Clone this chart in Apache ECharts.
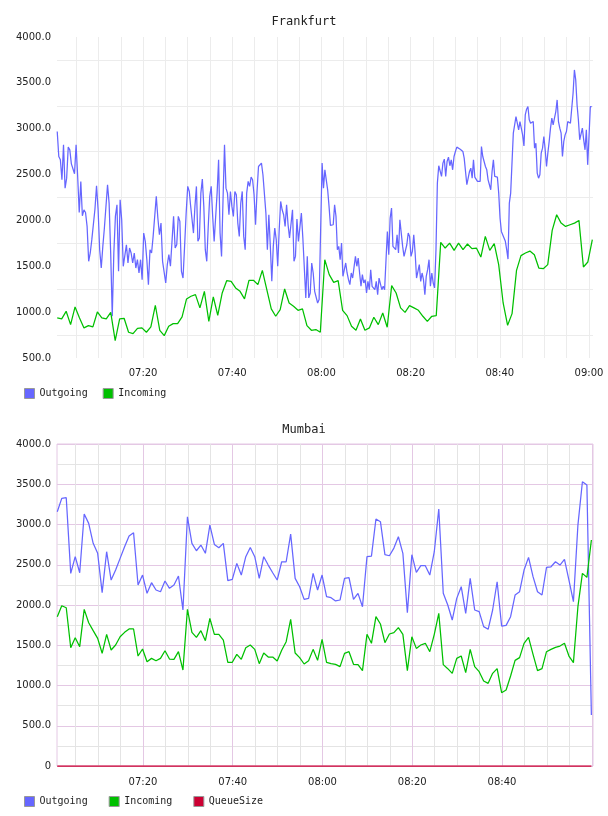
<!DOCTYPE html>
<html>
<head>
<meta charset="utf-8">
<script src="https://cdn.jsdelivr.net/npm/echarts@6/dist/echarts.min.js"></script>
<style>
html,body{margin:0;padding:0;background:#fff;}
#main{width:608px;height:816px;}
</style>
</head>
<body>
<div id="main"></div>
<script>
// ---------- DATA (time in minutes after 07:00) ----------
const chartTitles = ['Frankfurt', 'Mumbai'];
const topTickLabels = ['07:20', '07:40', '08:00', '08:20', '08:40', '09:00'];
const bottomTickLabels = ['07:20', '07:40', '08:00', '08:20', '08:40'];

// Frankfurt Outgoing, sampled ~every 20 s; four stretches with their start/end time
const fraOutStart = [0.75, 30.64, 60.15, 91.12];
const fraOutEnd = [30.37, 59.81, 90.67, 120.6];
const fraOut1 = [2970,2697,2661,2443,2824,2352,2461,2799,2770,2617,2606,2509,2824,2480,2087,2425,2051,2116,2087,1935,
  1554,1645,1790,1772,2124,2378,2116,1681,1481,1717,1917,1917,2389,2189,1645,955,1645,2044,2171,1445,
  2225,2007,1500,1500,1735,1536,1699,1645,1536,1645,1481,1572,1427,1572,1354,1862,1772,1572,1300,1681,
  1645,1826,1844,2262,2026,1844,1971,1554,1572,1318,1518,1627,1500,1772,2044,1699,1735,2044,1989,1445,
  1372,1717,2080,2371,2316];
const fraOut2 = [2171,2189,1862,2153,2371,1772,1808,2298,2450,2153,1681,1554,1935,2262,2371,2044,1772,1790,2298,2661,
  1862,1608,2225,2824,2352,2298,2062,2316,2153,2044,2316,2280,1971,1826,2189,2316,1826,1681,2298,2425,
  2371,2472,2443,2280,1953,2316,2588,2581,2625,2498,2480,2080,1681,2062,1717,1336,1717,1917,1790,1500,
  1899,2207,2116,2062,1935,2171,1953,1808,1790,2116,1554,1608,2015,1772,1772,2080,1808,1808,1155,1608,
  1155,1209,1536,1427,1227,1245,1100,1137,1137];
const fraOut3 = [2625,2352,2552,2570,2334,2153,1946,1935,1953,2171,2044,1681,1717,1572,1753,1391,1398,1536,1427,1354,
  1300,1427,1372,1391,1608,1500,1590,1427,1282,1409,1318,1354,1209,1336,1245,1463,1282,1264,1245,1336,
  1191,1372,1354,1245,1282,1245,1227,1880,1626,2026,2135,1717,1699,1681,1844,1645,2008,1862,1717,1608,
  1590,1735,1862,1826,1608,1663,1844,1645,1372,1354,1518,1336,1427,1354,1191,1391,1463,1572,1282,1427,
  1318,1264,1681,2407,2596,2606,2480,2625,2668,2480,2643,2690,2596,2661,2552,2697,2752,2799,2813];
const fraOut4 = [2777,2777,2752,2679,2668,2389,2461,2534,2570,2461,2661,2472,2480,2425,2407,2425,2806,2697,2679,2588,
  2552,2443,2389,2334,2534,2661,2480,2498,2472,2298,2026,1880,1844,1826,1772,1681,1579,2189,2298,2625,
  2951,3042,3133,3060,2988,3078,3006,2933,2813,3151,3213,3242,3097,3060,3060,3078,2788,2842,2516,2461,
  2498,2734,2788,2915,2770,2588,2734,2861,3006,3115,3042,3115,3187,3314,3078,3006,2951,2697,2861,2933,
  2970,3078,3089,3060,3078,3387,3641,3532,3260,3097,2879,2861,3006,2879,2770,2988,2606,2915,3242,3242];

// Frankfurt Incoming, one sample per minute from 07:00:45
const fraInStart = 0.75;
const fraInStep = 1;
const fraIn = [937,926,1009,864,1057,937,828,853,839,1002,937,926,998,690,926,933,781,766,824,828,
  781,839,1075,802,744,846,875,875,948,1144,1173,
  1191,1046,1227,900,1166,966,1209,1343,1336,1264,1227,1144,1347,1347,1300,1456,1245,1035,955,1028,
  1253,1100,1064,1020,1035,853,802,810,781,
  1572,1409,1325,1343,1020,962,846,802,926,802,828,944,864,991,835,1289,1209,1046,998,1071,
  1046,1020,955,900,955,962,1761,1699,1753,1674,1753,
  1681,1743,1692,1699,1601,1826,1674,1746,1518,1100,857,984,1456,1616,1645,1666,1626,1481,1474,1518,
  1891,2062,1971,1935,1953,1971,2000,1492,1547,1790];

// Mumbai, one sample per minute from 07:00:55
const mumStart = 0.91;
const mumStep = 1;
const mumOut = [3159,3325,3333,2393,2600,2401,3130,3014,2766,2642,2153,2662,2310,2434,2579,2724,2857,2898,2248,2372,
  2145,2277,2186,2165,2298,2207,2248,2360,1938,3096,2766,2674,2745,2642,2993,2753,2711,2766,2302,2318,
  2517,2372,2600,2715,2600,2331,2600,2496,2401,2310,2537,2537,2881,2331,2227,2070,2082,2393,2186,
  2372,2103,2091,2050,2062,2331,2339,2070,2145,1979,2600,2608,3068,3035,2625,2612,2707,2848,2642,1905,
  2625,2406,2488,2488,2372,2662,3192,2145,2000,1813,2082,2227,1896,2331,1938,1917,1731,1698,1938,2289,
  1739,1747,1855,2124,2165,2434,2592,2352,2165,2124,2467,2475,2537,2496,2567,2310,2041,2993,3531,3490,633];
const mumIn = [1855,1991,1966,1469,1594,1482,1946,1780,1681,1586,1400,1636,1441,1503,1606,1660,1702,1702,1366,1453,
  1296,1337,1308,1337,1432,1329,1325,1420,1192,1946,1660,1598,1681,1557,1834,1636,1636,1565,1288,1288,
  1387,1325,1469,1503,1449,1271,1403,1354,1354,1304,1437,1544,1822,1403,1346,1267,1308,1449,1312,
  1573,1288,1271,1263,1234,1399,1420,1263,1259,1184,1636,1524,1855,1764,1532,1640,1656,1718,1636,1184,
  1606,1461,1503,1524,1420,1636,1896,1259,1209,1151,1337,1366,1159,1449,1234,1172,1056,1027,1151,1209,
  911,944,1118,1312,1346,1524,1598,1387,1184,1209,1420,1449,1474,1490,1524,1366,1284,1979,2393,2343,2807];
const mumQueue = [0,0,0,0,0,0,0,0,0,0,0,0,0,0,0,0,0,0,0,0,0,0,0,0,0,0,0,0,0,0,
  0,0,0,0,0,0,0,0,0,0,0,0,0,0,0,0,0,0,0,0,0,0,0,0,0,0,0,0,0,0,
  0,0,0,0,0,0,0,0,0,0,0,0,0,0,0,0,0,0,0,0,0,0,0,0,0,0,0,0,0,0,
  0,0,0,0,0,0,0,0,0,0,0,0,0,0,0,0,0,0,0,0,0,0,0,0,0,0,0,0,0,0];

// ---------- build ----------
function stretch(vals, t0, t1) {
  const n = vals.length;
  return vals.map((v, i) => [t0 + (t1 - t0) * i / (n - 1), v]);
}
function regular(vals, t0, step) {
  return vals.map((v, i) => [t0 + i * step, v]);
}
const fraOutData = [].concat(
  stretch(fraOut1, fraOutStart[0], fraOutEnd[0]),
  stretch(fraOut2, fraOutStart[1], fraOutEnd[1]),
  stretch(fraOut3, fraOutStart[2], fraOutEnd[2]),
  stretch(fraOut4, fraOutStart[3], fraOutEnd[3])
);
const fraInData = regular(fraIn, fraInStart, fraInStep);
const mumOutData = regular(mumOut, mumStart, mumStep);
const mumInData = regular(mumIn, mumStart, mumStep);
const mumQueueData = regular(mumQueue, mumStart, mumStep);

const BLUE = '#6666ff', GREEN = '#00c000', RED = '#cc0033';
const PINK = '#e4c8e4', GREY = '#e4e4e4', LGREY = '#ececec';
const MONO = 'DejaVu Sans Mono', SANS = 'DejaVu Sans';
const LW = 1.25;

function hhmm(v) {
  const t = Math.round(v);
  const h = 7 + Math.floor(t / 60), m = t % 60;
  return String(h).padStart(2, '0') + ':' + String(m).padStart(2, '0');
}
function xFmt(list) {
  return function (v) {
    if (Math.abs(v - Math.round(v)) > 1e-6) return '';
    const s = hhmm(v);
    return list.indexOf(s) >= 0 ? s : '';
  };
}
function yFmt(v) {
  if (v % 500 !== 0) return '';
  return v === 0 ? '0' : v.toFixed(1);
}

// x ranges of the two plots
const topMin = 0.7, topMax = 120.9;
const botMin = 0.85, botMax = 120.27;
const plotL = 57, plotR = 15, plotW = 608 - plotL - plotR;
const topGridLeft2 = plotL - topMin * plotW / (topMax - topMin);
const botGridLeft2 = plotL - botMin * plotW / (botMax - botMin);

const axisLabelX = { fontFamily: SANS, fontSize: 10, color: '#222', margin: 10 };

const option = {
  animation: false,
  backgroundColor: '#fff',
  title: [
    { text: chartTitles[0], left: 'center', top: 16, padding: 0,
      textStyle: { fontFamily: MONO, fontSize: 12, fontWeight: 'normal', color: '#222' } },
    { text: chartTitles[1], left: 'center', top: 424, padding: 0,
      textStyle: { fontFamily: MONO, fontSize: 12, fontWeight: 'normal', color: '#222' } }
  ],
  legend: [
    { data: ['Outgoing', 'Incoming'], left: 24, top: 388, padding: 0, itemWidth: 10, itemHeight: 10,
      itemGap: 15, icon: 'rect', selectedMode: false,
      itemStyle: { borderColor: '#999', borderWidth: 1 },
      textStyle: { fontFamily: MONO, fontSize: 10, color: '#222' } },
    { data: ['Outgoing', 'Incoming', 'QueueSize'], left: 24, top: 796, padding: 0, itemWidth: 10, itemHeight: 10,
      itemGap: 21, icon: 'rect', selectedMode: false,
      itemStyle: { borderColor: '#999', borderWidth: 1 },
      textStyle: { fontFamily: MONO, fontSize: 10, color: '#222' } }
  ],
  grid: [
    { left: plotL, right: plotR, top: 37, height: 321 },
    { left: topGridLeft2, right: plotR, top: 37, height: 321 },
    { left: plotL, right: plotR, top: 444, height: 322, show: true, borderColor: PINK, borderWidth: 1 },
    { left: botGridLeft2, right: plotR, top: 444, height: 322 }
  ],
  xAxis: [
    { gridIndex: 0, type: 'value', min: topMin, max: topMax, show: false },
    { gridIndex: 1, type: 'value', position: 'bottom', min: 0, max: topMax, interval: 5,
      axisLine: { show: false }, axisTick: { show: false },
      axisLabel: Object.assign({ formatter: xFmt(topTickLabels), showMinLabel: false, showMaxLabel: false }, axisLabelX),
      splitLine: { show: true, showMinLine: false, showMaxLine: false, lineStyle: { color: LGREY, width: 1 } } },
    { gridIndex: 2, type: 'value', min: botMin, max: botMax, show: false },
    { gridIndex: 3, type: 'value', position: 'bottom', min: 0, max: botMax, interval: 5,
      axisLine: { show: false }, axisTick: { show: false },
      axisLabel: { show: false },
      splitLine: { show: true, showMinLine: false, showMaxLine: false, lineStyle: { color: GREY, width: 1 } } },
    { gridIndex: 3, type: 'value', position: 'bottom', min: 0, max: botMax, interval: 20,
      axisLine: { show: false }, axisTick: { show: false },
      axisLabel: Object.assign({ formatter: xFmt(bottomTickLabels), showMinLabel: false, showMaxLabel: false }, axisLabelX, { margin: 11 }),
      splitLine: { show: true, showMinLine: false, showMaxLine: false, lineStyle: { color: PINK, width: 1 } } }
  ],
  yAxis: [
    { gridIndex: 0, type: 'value', min: 500, max: 4000, interval: 250,
      axisLine: { show: false }, axisTick: { show: false },
      axisLabel: { formatter: yFmt, fontFamily: SANS, fontSize: 10, color: '#222', margin: 6 },
      splitLine: { show: true, lineStyle: { color: ['rgba(0,0,0,0)', LGREY], width: 1 } } },
    { gridIndex: 1, type: 'value', min: 0, max: 1, show: false },
    { gridIndex: 2, type: 'value', min: 0, max: 4000, interval: 250,
      axisLine: { show: false }, axisTick: { show: false },
      axisLabel: { formatter: yFmt, fontFamily: SANS, fontSize: 10, color: '#222', margin: 6 },
      splitLine: { show: true, lineStyle: { color: [PINK, GREY], width: 1 } } },
    { gridIndex: 3, type: 'value', min: 0, max: 1, show: false }
  ],
  series: [
    { name: 'Outgoing', type: 'line', xAxisIndex: 0, yAxisIndex: 0, data: fraOutData, showSymbol: false, symbol: 'none',
      color: BLUE, lineStyle: { width: LW, color: BLUE }, z: 3 },
    { name: 'Incoming', type: 'line', xAxisIndex: 0, yAxisIndex: 0, data: fraInData, showSymbol: false, symbol: 'none',
      color: GREEN, lineStyle: { width: LW, color: GREEN }, z: 3 },
    { name: 'Outgoing', type: 'line', xAxisIndex: 2, yAxisIndex: 2, data: mumOutData, showSymbol: false, symbol: 'none',
      color: BLUE, lineStyle: { width: LW, color: BLUE }, z: 3 },
    { name: 'Incoming', type: 'line', xAxisIndex: 2, yAxisIndex: 2, data: mumInData, showSymbol: false, symbol: 'none',
      color: GREEN, lineStyle: { width: LW, color: GREEN }, z: 3 },
    { name: 'QueueSize', type: 'line', xAxisIndex: 2, yAxisIndex: 2, data: mumQueueData, showSymbol: false, symbol: 'none',
      color: RED, lineStyle: { width: LW, color: RED }, z: 3, clip: false }
  ]
};

const chart = echarts.init(document.getElementById('main'), null, { renderer: 'canvas' });
chart.setOption(option);
</script>
</body>
</html>
